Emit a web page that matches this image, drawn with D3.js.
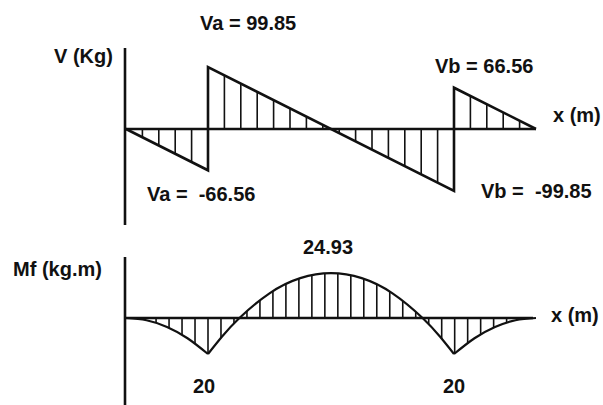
<!DOCTYPE html>
<html>
<head>
<meta charset="utf-8">
<script src="https://cdn.jsdelivr.net/npm/d3@7"></script>
<style>
  body { margin: 0; background: #fff; }
  svg text { font-family: "Liberation Sans", Arial, sans-serif; font-weight: bold; font-size: 20px; fill: #111; white-space: pre; }
</style>
</head>
<body>
<svg id="chart" width="603" height="405"></svg>
<script>
// beam: overhang 0.6 m, span 1.8 m, overhang 0.6 m
let supports = [0.6, 2.4];
let beamLength = 3.0;

// shear force V (kg), straight segments, jumps at supports
let shearX = [0, 0.6, 0.6, 2.4, 2.4, 3.0];
let shearV = [0, -66.56, 99.85, -99.85, 66.56, 0];

// bending moment Mf (kg.m), one list per segment
let momentLeftX = [0, 0.15, 0.3, 0.45, 0.6];
let momentLeftM = [0, -1.25, -5, -11.25, -20];
let momentSpanX = [0.6, 0.7, 0.83, 1.05, 1.275, 1.5, 1.725, 1.95, 2.17, 2.3, 2.4];
let momentSpanM = [-20, -10.57, 0, 13.7, 22.13, 24.93, 22.13, 13.7, 0, -10.57, -20];
let momentRightX = [2.4, 2.55, 2.7, 2.85, 3.0];
let momentRightM = [-20, -11.25, -5, -1.25, 0];

let labels = [
  { text: "Va = 99.85", x: 200, y: 30 },
  { text: "Vb = 66.56", x: 435, y: 73 },
  { text: "Va =  -66.56", x: 147, y: 201 },
  { text: "Vb =  -99.85", x: 481, y: 198 },
  { text: "V (Kg)", x: 54, y: 63 },
  { text: "x (m)", x: 553, y: 122 },
  { text: "24.93", x: 303, y: 254 },
  { text: "20", x: 193, y: 393 },
  { text: "20", x: 443, y: 393 },
  { text: "Mf (kg.m)", x: 13, y: 276 },
  { text: "x (m)", x: 551, y: 322 }
];

let svg = d3.select("#chart");

let xScale = d3.scaleLinear().domain([0, beamLength]).range([126, 536]);
let vScale = d3.scaleLinear().domain([-100, 100]).range([191, 67]);
let mScale = d3.scaleLinear().domain([-25, 25]).range([363, 273]);

let shearData = shearX.map((x, i) => ({ x: x, v: shearV[i] }));
let zip = (xs, ms) => xs.map((x, i) => ({ x: x, m: ms[i] }));
let momentSegments = [
  zip(momentLeftX, momentLeftM),
  zip(momentSpanX, momentSpanM),
  zip(momentRightX, momentRightM)
];

// hatch positions, counted out from the left support
function hatches(step) {
  let out = [];
  for (let x = supports[0] - step; x > 0.02; x -= step) out.push(x);
  for (let x = supports[0]; x < beamLength - 0.02; x += step) out.push(x);
  return out;
}

let defs = svg.append("defs");

// ---- shear diagram ----
let shearArea = d3.area()
  .x(d => xScale(d.x))
  .y0(vScale(0))
  .y1(d => vScale(d.v));

defs.append("clipPath").attr("id", "shearClip")
  .append("path")
  .attr("d", shearArea(shearData));

svg.append("g")
  .attr("clip-path", "url(#shearClip)")
  .selectAll("line")
  .data(hatches(0.12))
  .join("line")
  .attr("x1", d => xScale(d))
  .attr("x2", d => xScale(d))
  .attr("y1", vScale(100))
  .attr("y2", vScale(-100))
  .attr("stroke", "#111")
  .attr("stroke-width", 1.6);

// axes
svg.append("line")
  .attr("x1", 125).attr("x2", 125)
  .attr("y1", 48).attr("y2", 225)
  .attr("stroke", "#111").attr("stroke-width", 2.6);
svg.append("line")
  .attr("x1", 125).attr("x2", xScale(beamLength))
  .attr("y1", vScale(0)).attr("y2", vScale(0))
  .attr("stroke", "#111").attr("stroke-width", 2.6);

let shearLine = d3.line()
  .x(d => xScale(d.x))
  .y(d => vScale(d.v));

svg.append("path")
  .attr("d", shearLine(shearData))
  .attr("fill", "none")
  .attr("stroke", "#111")
  .attr("stroke-width", 2.6)
  .attr("stroke-linejoin", "miter");

// ---- moment diagram ----
let momentArea = d3.area()
  .x(d => xScale(d.x))
  .y0(mScale(0))
  .y1(d => mScale(d.m))
  .curve(d3.curveNatural);

let clip = defs.append("clipPath").attr("id", "momentClip");
momentSegments.forEach(seg => {
  clip.append("path").attr("d", momentArea(seg));
});

svg.append("g")
  .attr("clip-path", "url(#momentClip)")
  .selectAll("line")
  .data(hatches(0.095))
  .join("line")
  .attr("x1", d => xScale(d))
  .attr("x2", d => xScale(d))
  .attr("y1", mScale(25))
  .attr("y2", mScale(-25))
  .attr("stroke", "#111")
  .attr("stroke-width", 1.6);

svg.append("line")
  .attr("x1", 125).attr("x2", 125)
  .attr("y1", 257).attr("y2", 405)
  .attr("stroke", "#111").attr("stroke-width", 2.6);
svg.append("line")
  .attr("x1", 125).attr("x2", xScale(beamLength) - 3)
  .attr("y1", mScale(0)).attr("y2", mScale(0))
  .attr("stroke", "#111").attr("stroke-width", 2.4);

let momentLine = d3.line()
  .x(d => xScale(d.x))
  .y(d => mScale(d.m))
  .curve(d3.curveNatural);

svg.append("g")
  .selectAll("path")
  .data(momentSegments)
  .join("path")
  .attr("d", d => momentLine(d))
  .attr("fill", "none")
  .attr("stroke", "#111")
  .attr("stroke-width", 2.2);

// ---- labels ----
svg.append("g")
  .selectAll("text")
  .data(labels)
  .join("text")
  .attr("x", d => d.x)
  .attr("y", d => d.y)
  .text(d => d.text);
</script>
</body>
</html>
